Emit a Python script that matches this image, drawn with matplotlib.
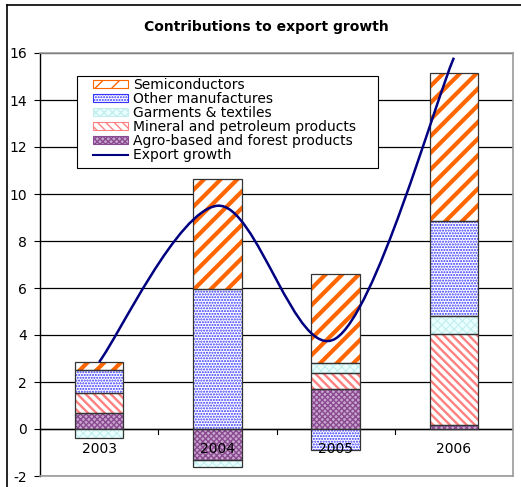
import numpy as np
import matplotlib
matplotlib.use("Agg")
from matplotlib import pyplot as plt
from matplotlib.path import Path
from matplotlib.patches import PathPatch, Rectangle
from matplotlib.lines import Line2D

# the original is slightly stretched horizontally; DejaVu's wider glyphs match it well
plt.rcParams['font.family'] = ['DejaVu Sans']

years = ["2003", "2004", "2005", "2006"]
semiconductors = [0.34, 4.70, 3.80, 6.30]
other_manuf = [0.98, 5.95, -0.88, 4.05]
garments = [-0.37, -0.30, 0.40, 0.77]
mineral = [0.84, 0.0, 0.67, 3.88]
agro = [0.68, -1.32, 1.72, 0.17]
export_growth = [2.85, 9.5, 3.85, 15.8]

# stacking order bottom->top, as drawn by Excel (positives up, negatives down)
series = [
    ("Agro-based and forest products", agro,
     dict(facecolor='#c9a6cf', edgecolor='#8a4a90', hatch='xxxxxx'), 1.0),
    ("Mineral and petroleum products", mineral,
     dict(facecolor='white', edgecolor='#ff8080', hatch='\\\\\\\\'), 1.7),
    ("Garments & textiles", garments,
     dict(facecolor='#eaffff', edgecolor='#c4eeee', hatch='xxxx'), 0.8),
    ("Other manufactures", other_manuf,
     dict(facecolor='white', edgecolor='#3333ff', hatch='......'), 1.0),
    ("Semiconductors", semiconductors,
     dict(facecolor='white', edgecolor='#ff6600', hatch='//'), 3.0),
]


def set_hatch_lw(patch, lw):
    if hasattr(patch, 'set_hatch_linewidth'):
        patch.set_hatch_linewidth(lw)
    else:
        patch._hatch_linewidth = lw


fig = plt.figure(figsize=(5.21, 4.87), dpi=100)
ax = fig.add_axes([40 / 521, 1 - 476 / 487, 473 / 521, 423 / 487])

x = np.arange(len(years))
width = 0.41
pos_base = np.zeros(len(years))
neg_base = np.zeros(len(years))
for name, vals, style, hlw in series:
    vals = np.array(vals)
    bottoms = np.where(vals >= 0, pos_base, neg_base)
    bars = ax.bar(x, vals, width, bottom=bottoms, linewidth=0, zorder=3, **style)
    for p in bars:
        set_hatch_lw(p, hlw)
    # outline each segment in dark grey
    ax.bar(x, vals, width, bottom=bottoms, facecolor='none', edgecolor='#333333', linewidth=0.9, zorder=4)
    pos_base = pos_base + np.where(vals >= 0, vals, 0)
    neg_base = neg_base + np.where(vals < 0, vals, 0)

# smoothed line (Catmull-Rom -> cubic Bezier, like Excel's smoothed line)
pts = np.column_stack([x, export_growth]).astype(float)
verts = [tuple(pts[0])]
codes = [Path.MOVETO]
n = len(pts)
for i in range(n - 1):
    p0 = pts[i - 1] if i > 0 else pts[i]
    p1 = pts[i]
    p2 = pts[i + 1]
    p3 = pts[i + 2] if i + 2 < n else pts[i + 1]
    c1 = p1 + (p2 - p0) / 6.0
    c2 = p2 - (p3 - p1) / 6.0
    verts += [tuple(c1), tuple(c2), tuple(p2)]
    codes += [Path.CURVE4] * 3
ax.add_patch(PathPatch(Path(verts, codes), facecolor='none', edgecolor='#000080', linewidth=1.8, zorder=5))

ax.set_xlim(-0.5, 3.5)
ax.set_ylim(-2, 16)
ax.set_yticks(np.arange(-2, 17, 2))
ax.set_yticklabels([str(v) for v in range(-2, 17, 2)], fontsize=10)
ax.tick_params(axis='y', direction='out', length=4, width=0.8, pad=5.5, colors='black')
ax.yaxis.grid(True, color='black', linewidth=0.9, zorder=1)
ax.set_axisbelow(True)

# x axis at zero with ticks between categories
ax.set_xticks([])
ax.axhline(0, color='black', linewidth=1.0, zorder=2)
for b in [0.5, 1.5, 2.5]:
    ax.plot([b, b], [0, -0.2], color='black', linewidth=0.8, zorder=2, clip_on=False)
for xi, yr in zip(x, years):
    ax.text(xi, -0.85, yr, ha='center', va='center', fontsize=10, zorder=6)

for side in ['top', 'right', 'bottom']:
    ax.spines[side].set_color('#9a9a9a')
    ax.spines[side].set_linewidth(1.2)
ax.spines['left'].set_color('black')
ax.spines['left'].set_linewidth(1.0)

fig.text(266 / 521, 1 - 27 / 487, "Contributions to export growth", ha='center', va='center',
         fontsize=10, fontweight='bold')

# outer chart frame (only left and top edges visible)
fig.add_artist(Line2D([7 / 521, 7 / 521], [0, 1 - 5 / 487], transform=fig.transFigure, color='black', linewidth=1.2))
fig.add_artist(Line2D([7 / 521, 1], [1 - 5 / 487, 1 - 5 / 487], transform=fig.transFigure, color='black', linewidth=1.2))

legend_order = ["Semiconductors", "Other manufactures", "Garments & textiles",
                "Mineral and petroleum products", "Agro-based and forest products"]
leg_handles = []
for name in legend_order:
    style, hlw = [(s[2], s[3]) for s in series if s[0] == name][0]
    r = Rectangle((0, 0), 1, 1, linewidth=0.8, **style)
    set_hatch_lw(r, hlw)
    leg_handles.append(r)
leg_handles.append(Line2D([], [], color='#000080', linewidth=1.5))

# legend box drawn separately so it can have Excel's wide side padding
box = Rectangle((77 / 521, 1 - 168 / 487), 301 / 521, 92 / 487, transform=fig.transFigure,
                facecolor='white', edgecolor='black', linewidth=0.8, zorder=6)
fig.add_artist(box)
leg = fig.legend(leg_handles, legend_order + ["Export growth"], loc='upper left',
                 bbox_to_anchor=(93 / 521, 1 - 78 / 487), fontsize=10, frameon=False,
                 borderpad=0, labelspacing=0.0, handlelength=2.5, handleheight=0.45,
                 handletextpad=0.4, borderaxespad=0)
leg.set_zorder(7)

fig.savefig("out.png", dpi=100)
